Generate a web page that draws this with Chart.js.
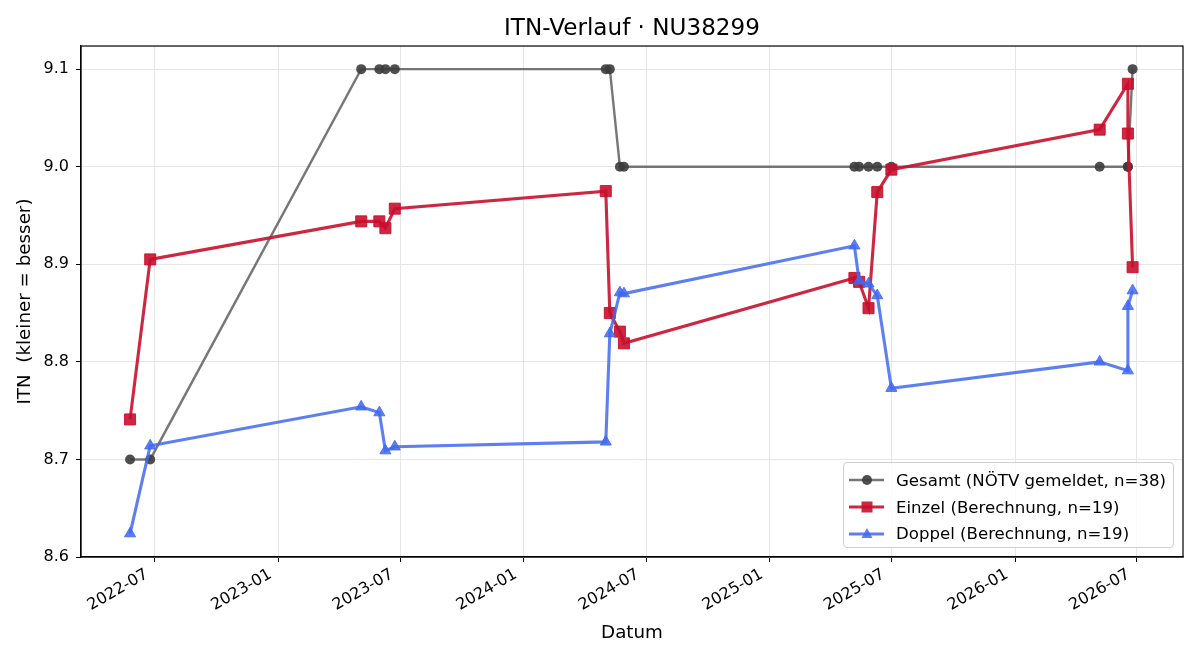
<!DOCTYPE html>
<html lang="de">
<head>
<meta charset="utf-8">
<title>ITN-Verlauf · NU38299</title>
<script src="https://cdn.jsdelivr.net/npm/chart.js@4.4.1/dist/chart.umd.min.js"></script>
<style>
  body { margin: 0; background: #fff; }
  #wrap { position: relative; width: 1200px; height: 660px; }
  #legende {
    position: absolute; left: 843px; top: 462px; width: 331px; height: 86px;
    box-sizing: border-box; border: 1px solid #d0d0d0; border-radius: 4px;
    background: rgba(255, 255, 255, 0.8);
    font-family: "DejaVu Sans"; font-size: 16.6px; color: #000;
    padding: 4px 0 0 5px;
  }
  .eintrag { display: flex; align-items: center; height: 26.7px; white-space: nowrap; }
  .eintrag svg { margin-right: 12px; flex: none; }
</style>
</head>
<body>
<div id="wrap">
  <canvas id="grafik" width="1200" height="660"></canvas>
  <div id="legende"></div>
</div>
<script>
// Daten
const datum = [
  '2022-05-25', '2022-06-24', '2023-05-04', '2023-05-31', '2023-06-09', '2023-06-23',
  '2024-05-02', '2024-05-08', '2024-05-23', '2024-05-29', '2025-05-07', '2025-05-14',
  '2025-05-28', '2025-06-10', '2025-07-01', '2026-05-07', '2026-06-18', '2026-06-18',
  '2026-06-25'
];
const gesamt = [8.7, 8.7, 9.1, 9.1, 9.1, 9.1, 9.1, 9.1, 9.0, 9.0, 9.0, 9.0, 9.0, 9.0, 9.0, 9.0, 9.0, 9.0, 9.1];
const einzel = [8.741, 8.905, 8.944, 8.944, 8.937, 8.957, 8.975, 8.850, 8.831, 8.819, 8.886, 8.882, 8.855, 8.974, 8.997, 9.038, 9.085, 9.034, 8.897];
const doppel = [8.624, 8.714, 8.754, 8.748, 8.709, 8.713, 8.718, 8.829, 8.871, 8.870, 8.919, 8.883, 8.880, 8.868, 8.773, 8.800, 8.791, 8.857, 8.873];

const xTickLabels = ['2022-07', '2023-01', '2023-07', '2024-01', '2024-07', '2025-01', '2025-07', '2026-01', '2026-07'];
const yTicks = [8.6, 8.7, 8.8, 8.9, 9.0, 9.1];

const xMin = '2022-03-13';
const xMax = '2026-09-08';
const yMin = 8.6;
const yMax = 9.1237;

const ts = (d) => Date.parse(d + 'T00:00:00Z');
const punkte = (werte) => werte.map((v, i) => ({ x: ts(datum[i]), y: v }));

Chart.defaults.font.family = 'DejaVu Sans';
Chart.defaults.font.size = 16;
Chart.defaults.color = '#000';

const serien = [
  {
    label: 'Gesamt (NÖTV gemeldet, n=38)',
    data: punkte(gesamt),
    borderColor: 'rgba(85, 85, 85, 0.8)',
    borderWidth: 2.4,
    pointStyle: 'circle',
    pointRadius: 5,
    pointBackgroundColor: 'rgba(60, 60, 60, 0.9)',
    pointBorderColor: 'rgba(60, 60, 60, 0.9)',
    pointBorderWidth: 0,
    order: 3,
  },
  {
    label: 'Einzel (Berechnung, n=19)',
    data: punkte(einzel),
    borderColor: 'rgba(200, 16, 46, 0.9)',
    borderWidth: 3.1,
    pointStyle: 'rect',
    pointRadius: 7.8,
    pointBackgroundColor: 'rgba(200, 16, 46, 0.9)',
    pointBorderColor: 'rgba(200, 16, 46, 0.9)',
    pointBorderWidth: 1,
    order: 2,
  },
  {
    label: 'Doppel (Berechnung, n=19)',
    data: punkte(doppel),
    borderColor: 'rgba(65, 105, 240, 0.85)',
    borderWidth: 3.1,
    pointStyle: 'triangle',
    pointRadius: 6.4,
    pointBackgroundColor: 'rgba(65, 105, 240, 0.85)',
    pointBorderColor: 'rgba(65, 105, 240, 0.85)',
    pointBorderWidth: 1,
    order: 1,
  },
];

// Rahmen um die Zeichenfläche (wie bei matplotlib)
const rahmen = {
  id: 'rahmen',
  afterDatasetsDraw(chart) {
    const { ctx, chartArea: a } = chart;
    ctx.save();
    ctx.strokeStyle = '#000';
    ctx.lineWidth = 1.2;
    ctx.strokeRect(a.left, a.top, a.right - a.left, a.bottom - a.top);
    ctx.restore();
  },
};

const chart = new Chart(document.getElementById('grafik'), {
  type: 'line',
  data: { datasets: serien },
  options: {
    responsive: false,
    animation: false,
    devicePixelRatio: 1,
    layout: { padding: { left: 0, right: 17, top: 0, bottom: 0 } },
    plugins: {
      legend: { display: false },
      tooltip: { enabled: false },
      title: {
        display: true,
        fullSize: false,
        text: 'ITN-Verlauf · NU38299',
        font: { size: 23.1, weight: 'normal' },
        color: '#000',
        padding: { top: 15.5, bottom: 2.8 },
      },
    },
    scales: {
      x: {
        type: 'linear',
        min: ts(xMin),
        max: ts(xMax),
        afterBuildTicks: (scale) => {
          scale.ticks = xTickLabels.map((l) => ({ value: ts(l + '-01') }));
        },
        afterFit: (scale) => { scale.height = 103; },
        ticks: {
          autoSkip: false,
          minRotation: 30,
          maxRotation: 30,
          padding: 3,
          labelOffset: -8,
          callback: (v) => new Date(v).toISOString().slice(0, 7),
        },
        grid: { color: '#e6e6e6', tickColor: '#000', tickLength: 5 },
        border: { color: '#000', width: 1.2 },
        title: { display: true, text: 'Datum', font: { size: 18.3 }, padding: { top: 0, bottom: 16 } },
      },
      y: {
        type: 'linear',
        min: yMin,
        max: yMax,
        afterBuildTicks: (scale) => {
          scale.ticks = yTicks.map((v) => ({ value: v }));
        },
        afterFit: (scale) => { scale.width = 81; },
        ticks: { padding: 7, callback: (v) => v.toFixed(1) },
        grid: { color: '#e6e6e6', tickColor: '#000', tickLength: 5 },
        border: { color: '#000', width: 1.2 },
        title: { display: true, text: 'ITN  (kleiner = besser)', font: { size: 18.3 }, padding: { top: 14, bottom: 0 } },
      },
    },
  },
  plugins: [rahmen],
});

// Legende unten rechts, innerhalb der Zeichenfläche
const legende = document.getElementById('legende');
serien.forEach((s) => {
  const marker = {
    circle: '<circle cx="18" cy="7" r="5" fill="' + s.pointBackgroundColor + '"/>',
    rect: '<rect x="12.5" y="1.5" width="11" height="11" fill="' + s.pointBackgroundColor + '"/>',
    triangle: '<polygon points="18,1 23.5,11 12.5,11" fill="' + s.pointBackgroundColor + '"/>',
  }[s.pointStyle];
  const zeile = document.createElement('div');
  zeile.className = 'eintrag';
  zeile.innerHTML =
    '<svg width="35" height="14"><line x1="0" y1="7" x2="35" y2="7" stroke="' + s.borderColor +
    '" stroke-width="' + s.borderWidth + '"/>' + marker + '</svg><span></span>';
  zeile.querySelector('span').textContent = s.label;
  legende.appendChild(zeile);
});
</script>
</body>
</html>
